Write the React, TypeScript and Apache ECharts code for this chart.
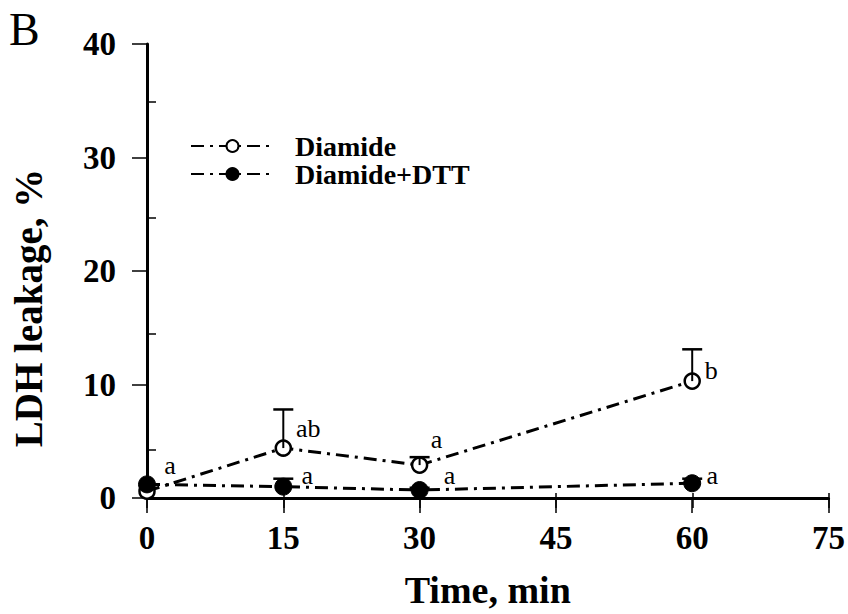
import { useEffect, useRef } from "react";
import * as echarts from "echarts";

const times = [0, 15, 30, 60];
const diamide = [0.6, 4.4, 2.9, 10.3];
const diamideUpper = [0.6, 7.8, 3.6, 13.1];
const dtt = [1.2, 1.0, 0.7, 1.3];
const dttUpper = [1.2, 1.7, 0.9, 1.7];
const diamideLetters = ["a", "ab", "a", "b"];
const dttLetters = ["", "a", "a", "a"];
const seriesNames = ["Diamide", "Diamide+DTT"];
const panelLetter = "B";
const xTitle = "Time, min";
const yTitle = "LDH leakage, %";

const FONT = "'Liberation Serif', 'Times New Roman', serif";
const diamideLabelOffsets = [[23, -26], [25, -20], [17, -26], [19, -11]];
const dttLabelOffsets = [[0, 0], [24, -11], [30, -15], [20, -8]];
const DASH = [13, 6, 3, 6];

function buildData(values: number[], letters: string[], offsets: number[][]) {
  return times.map((t, i) => ({
    value: [t, values[i]],
    label: {
      show: letters[i] !== "",
      formatter: letters[i],
      position: "inside",
      offset: offsets[i],
      fontFamily: FONT,
      fontSize: 26,
      color: "#000",
    },
  }));
}

function errData(values: number[], upper: number[]) {
  return times.map((t, i) => [t, values[i], upper[i]]);
}

const errRender = (params: any, api: any) => {
  const x = api.value(0);
  const v = api.value(1);
  const u = api.value(2);
  if (!(u > v)) return { type: "group", children: [] };
  const p0 = api.coord([x, v]);
  const p1 = api.coord([x, u]);
  return {
    type: "group",
    children: [
      { type: "line", shape: { x1: p0[0], y1: p0[1], x2: p1[0], y2: p1[1] }, style: { stroke: "#000", lineWidth: 2 } },
      { type: "line", shape: { x1: p1[0] - 10, y1: p1[1], x2: p1[0] + 10, y2: p1[1] }, style: { stroke: "#000", lineWidth: 2.5 } },
    ],
  };
};

export default function App() {
  const ref = useRef<HTMLDivElement>(null);
  useEffect(() => {
    if (!ref.current) return;
    const chart = echarts.init(ref.current, undefined, { renderer: "svg" });
    const grid = { left: 147, right: 19, top: 44, bottom: 106 };
    chart.setOption({
      animation: false,
      backgroundColor: "#fff",
      grid: [grid, { ...grid }],
      legend: {
        left: 185,
        top: 127,
        orient: "vertical",
        itemWidth: 83,
        itemHeight: 15,
        itemGap: 0,
        data: seriesNames,
        textStyle: { fontFamily: FONT, fontWeight: "bold", fontSize: 28, color: "#000", padding: [0, 0, 0, 16] },
      },
      xAxis: [
        {
          type: "value",
          gridIndex: 0,
          min: 0,
          max: 75,
          interval: 15,
          axisLine: { show: true, onZero: false, lineStyle: { color: "#000", width: 3 } },
          axisTick: { show: true, length: 15, lineStyle: { color: "#000", width: 1.5 } },
          axisLabel: { margin: 23, fontFamily: FONT, fontWeight: "bold", fontSize: 33, color: "#000" },
          splitLine: { show: false },
          name: xTitle,
          nameLocation: "middle",
          nameGap: 73,
          nameTextStyle: { fontFamily: FONT, fontWeight: "bold", fontSize: 38, color: "#000" },
        },
        {
          type: "value",
          gridIndex: 1,
          min: 0,
          max: 75,
          interval: 15,
          axisLine: { show: false },
          axisTick: { show: true, inside: true, length: 15, lineStyle: { color: "#000", width: 1.5 } },
          axisLabel: { show: false },
          splitLine: { show: false },
        },
      ],
      yAxis: [
        {
          type: "value",
          gridIndex: 0,
          min: 0,
          max: 40,
          interval: 10,
          axisLine: { show: true, onZero: false, lineStyle: { color: "#000", width: 3 } },
          axisTick: { show: true, length: 15, lineStyle: { color: "#000", width: 1.5 } },
          axisLabel: { margin: 31, fontFamily: FONT, fontWeight: "bold", fontSize: 33, color: "#000" },
          splitLine: { show: false },
        },
        {
          type: "value",
          gridIndex: 1,
          min: 0,
          max: 40,
          interval: 10,
          axisLine: { show: false },
          axisTick: { show: false, inside: true },
          minorTick: { show: true, splitNumber: 2, length: 9, lineStyle: { color: "#000", width: 1.5 } },
          axisLabel: { show: false },
          splitLine: { show: false },
        },
      ],
      graphic: [
        {
          type: "text",
          left: 9,
          top: 6,
          style: { text: panelLetter, font: `46px ${FONT}`, fill: "#000" },
        },
        {
          type: "text",
          x: 28,
          y: 308,
          rotation: Math.PI / 2,
          style: { text: yTitle, font: `bold 39px ${FONT}`, fill: "#000", align: "center", verticalAlign: "middle" },
        },
      ],
      series: [
        {
          name: seriesNames[0],
          type: "line",
          xAxisIndex: 0,
          yAxisIndex: 0,
          data: buildData(diamide, diamideLetters, diamideLabelOffsets),
          symbol: "circle",
          symbolSize: 15,
          lineStyle: { color: "#000", width: 3, type: DASH },
          itemStyle: { color: "#fff", borderColor: "#000", borderWidth: 2.5 },
          z: 3,
        },
        {
          name: seriesNames[1],
          type: "line",
          xAxisIndex: 0,
          yAxisIndex: 0,
          data: buildData(dtt, dttLetters, dttLabelOffsets),
          symbol: "circle",
          symbolSize: 17,
          lineStyle: { color: "#000", width: 3, type: DASH },
          itemStyle: { color: "#000", borderColor: "#000", borderWidth: 1 },
          z: 3,
        },
        {
          type: "custom",
          xAxisIndex: 0,
          yAxisIndex: 0,
          data: errData(diamide, diamideUpper),
          encode: { x: 0, y: [1, 2] },
          renderItem: errRender,
          z: 4,
          silent: true,
        },
        {
          type: "custom",
          xAxisIndex: 0,
          yAxisIndex: 0,
          data: errData(dtt, dttUpper),
          encode: { x: 0, y: [1, 2] },
          renderItem: errRender,
          z: 4,
          silent: true,
        },
      ],
    });
    return () => chart.dispose();
  }, []);
  return <div ref={ref} style={{ position: "fixed", left: 0, top: 0, width: 848, height: 614 }} />;
}
